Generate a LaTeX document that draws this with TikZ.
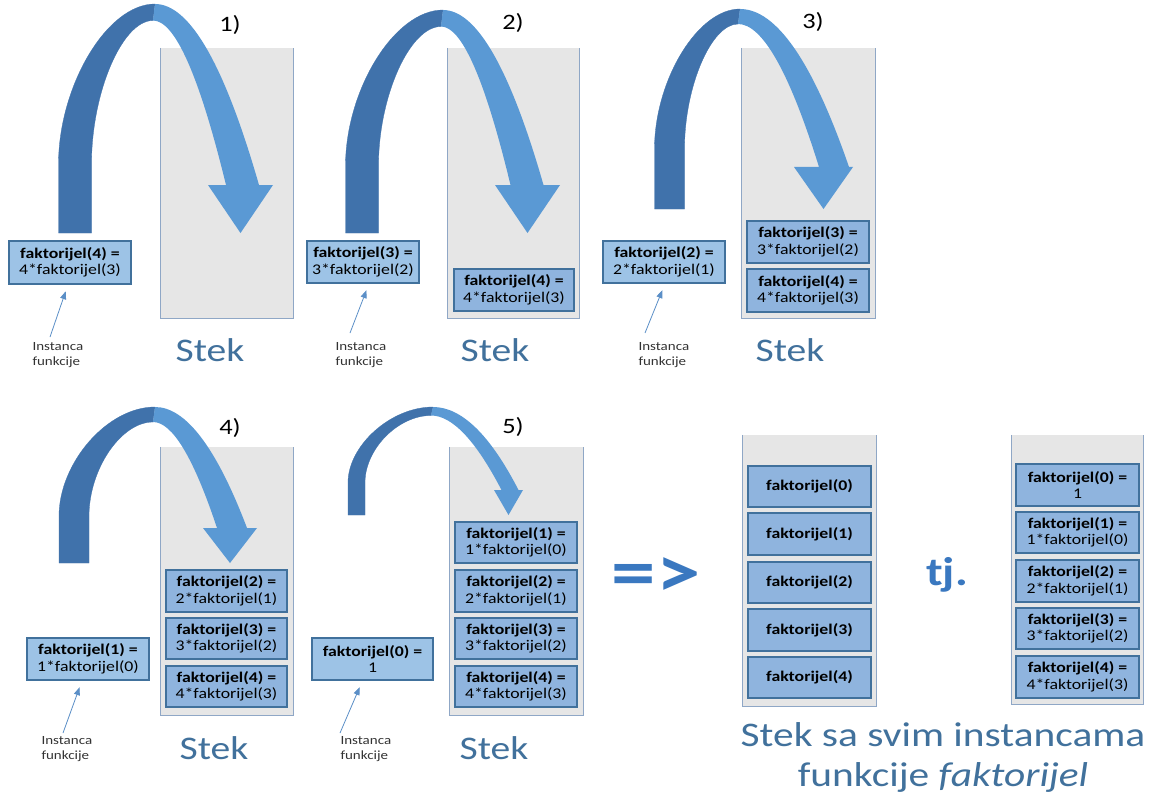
\documentclass[tikz,border=0pt]{standalone}
\usepackage{fontspec}
\setmainfont{Carlito}[FakeStretch=1.2]
\usetikzlibrary{arrows.meta}

\definecolor{stackfill}{HTML}{E6E6E6}
\definecolor{stackline}{HTML}{8FA7C6}
\definecolor{boxline}{HTML}{41719C}
\definecolor{freebox}{HTML}{9DC3E6}
\definecolor{stackbox}{HTML}{8FB4DE}
\definecolor{arcdark}{HTML}{4072AB}
\definecolor{arclight}{HTML}{5A99D4}
\definecolor{labelblue}{HTML}{41719C}
\definecolor{pointer}{HTML}{5B8FC7}
\definecolor{bigsign}{HTML}{3A78C0}

\tikzset{
  fb/.style={draw=boxline, line width=1.2pt, inner sep=0pt, align=center,
             font=\fontsize{14.8}{16.5}\selectfont},
  freeb/.style={fb, fill=freebox},
  stackb/.style={fb, fill=stackbox},
  stackarea/.style={fill=stackfill, inner sep=0pt},
  stackwall/.style={draw=stackline, line width=1.3pt},
  steklabel/.style={text=labelblue, font=\fontsize{33}{36}\selectfont, anchor=base},
  steplabel/.style={font=\fontsize{22}{24}\selectfont, anchor=base},
  note/.style={font=\fontsize{12.5}{15.5}\selectfont, align=left, anchor=west, text=black!80},
  pointerline/.style={draw=pointer, line width=0.8pt,
                      -{Triangle[length=8pt,width=6pt]}, shorten >=7pt},
  caption/.style={text=labelblue, font=\fontsize{34.5}{40}\selectfont, anchor=base},
  sign/.style={font=\bfseries\fontsize{#1}{#1}\selectfont, text=bigsign},
}

% rectangle node given by its corners: style, x1, y1, x2, y2, name, text
\newcommand{\fbx}[7]{%
  \node[#1, minimum width={(#4-#2)*1pt}, minimum height={(#5-#3)*1pt}]
    (#6) at ({(#2+#4)/2},{(#3+#5)/2}) {#7};}

% open-topped stack: name, x1, y1, x2, y2
\newcommand{\stackbin}[5]{%
  \node[stackarea, minimum width={(#4-#2)*1pt}, minimum height={(#5-#3)*1pt}]
    (#1) at ({(#2+#4)/2},{(#3+#5)/2}) {};
  \draw[stackwall] (#1.north west) -- (#1.south west) -- (#1.south east) -- (#1.north east);}

% arched block arrow
% #1 leg centre x, #2 leg foot y, #3 apex x, #4 apex y, #5 shaft centre x,
% #6 head base y, #7 band width, #8 head left x, #9 head right x
\newcommand{\turnarrow}[9]{%
  \pgfmathsetmacro\tLo{#1-#7/2}%
  \pgfmathsetmacro\tLi{#1+#7/2}%
  \pgfmathsetmacro\tRo{#5+#7/2}%
  \pgfmathsetmacro\tRi{#5-#7/2}%
  \pgfmathsetmacro\tH{#2-#4}%
  \pgfmathsetmacro\tYv{#2-0.3*\tH}%
  \pgfmathsetmacro\tYc{#4+0.36*\tH}%
  \pgfmathsetmacro\tIx{#3-2}%
  \pgfmathsetmacro\tIy{#4+0.5*#7}%
  \pgfmathsetmacro\tLoc{#3-0.5*(#3-\tLo)}%
  \pgfmathsetmacro\tLic{\tIx-0.5*(\tIx-\tLi)}%
  \pgfmathsetmacro\tYci{\tYv-0.5*(\tYv-\tIy)}%
  \pgfmathsetmacro\tOa{#3+(\tRo-#3)/3}%
  \pgfmathsetmacro\tOb{\tRo-(\tRo-#3)/3}%
  \pgfmathsetmacro\tOby{#6-2*(#6-#4)/3}%
  \pgfmathsetmacro\tCx{\tIx+0.45*(\tRi-\tIx)}%
  \pgfmathsetmacro\tCy{\tIy}%
  \pgfmathsetmacro\tIax{\tRi+2*(\tCx-\tRi)/3}%
  \pgfmathsetmacro\tIay{#6+2*(\tCy-#6)/3}%
  \pgfmathsetmacro\tIbx{\tIx+2*(\tCx-\tIx)/3}%
  \pgfmathsetmacro\tIby{\tIy+2*(\tCy-\tIy)/3}%
  \pgfmathsetmacro\tTip{(#8+#9)/2}%
  \filldraw[fill=arcdark, draw=arcdark, line width=0.3pt]
    (\tLo,#2) -- (\tLo,\tYv) .. controls (\tLo,\tYc) and (\tLoc,#4) .. (#3,#4)
    -- (\tIx,\tIy) .. controls (\tLic,\tIy) and (\tLi,\tYci) .. (\tLi,\tYv)
    -- (\tLi,#2) -- cycle;
  \fill[arclight]
    (#3,#4) .. controls (\tOa,#4) and (\tOb,\tOby) .. (\tRo,#6)
    -- (#9,#6) -- (\tTip,#2) -- (#8,#6) -- (\tRi,#6)
    .. controls (\tIax,\tIay) and (\tIbx,\tIby) .. (\tIx,\tIy) -- cycle;}

\begin{document}
\begin{tikzpicture}[x=1pt, y=-1pt]
\fill[white] (0,0) rectangle (1155,805);
\useasboundingbox (0,0) rectangle (1155,805);

% ---------- stacks ----------
\stackbin{s1}{161}{48}{293}{318}
\stackbin{s2}{448}{48}{579}{318}
\stackbin{s3}{742}{48}{875}{318}
\stackbin{s4}{161}{447}{293}{715}
\stackbin{s5}{450}{447}{583}{715}
\stackbin{sa}{743}{435}{876}{706}
\stackbin{sb}{1012}{435}{1143}{704}

% ---------- call arrows ----------
\turnarrow{75}{233}{155}{4}{242.5}{185}{33}{208}{273}
\turnarrow{362}{233}{443}{10}{527}{185}{33}{495}{560}
\turnarrow{669.5}{209}{740}{9}{834}{167}{30}{794}{853}
\turnarrow{74}{563}{155}{407}{232}{528}{30}{203}{257}
\turnarrow{356.5}{515}{433}{407}{510}{490}{17}{494}{523}

% ---------- step numbers ----------
\node[steplabel] (n1) at (230,32) {1)};
\node[steplabel] (n2) at (513,30) {2)};
\node[steplabel] (n3) at (813,29) {3)};
\node[steplabel] (n4) at (230,434) {4)};
\node[steplabel] (n5) at (513,433) {5)};

% ---------- current instances ----------
\fbx{freeb}{9}{241}{131}{284}{L1}{\textbf{faktorijel(4) =}\\4*faktorijel(3)}
\fbx{freeb}{307}{241}{419}{283}{L2}{\textbf{faktorijel(3) =}\\3*faktorijel(2)}
\fbx{freeb}{603}{241}{725}{283}{L3}{\textbf{faktorijel(2) =}\\2*faktorijel(1)}
\fbx{freeb}{27}{638}{149}{680}{L4}{\textbf{faktorijel(1) =}\\1*faktorijel(0)}
\fbx{freeb}{312}{638}{433}{680}{L5}{\textbf{faktorijel(0) =}\\1}

% ---------- stack contents ----------
\fbx{stackb}{454}{269}{574}{311}{b24}{\textbf{faktorijel(4) =}\\4*faktorijel(3)}

\fbx{stackb}{747}{221}{869}{263}{b33}{\textbf{faktorijel(3) =}\\3*faktorijel(2)}
\fbx{stackb}{747}{269}{869}{312}{b34}{\textbf{faktorijel(4) =}\\4*faktorijel(3)}

\fbx{stackb}{166}{570}{287}{612}{b42}{\textbf{faktorijel(2) =}\\2*faktorijel(1)}
\fbx{stackb}{166}{618}{287}{659}{b43}{\textbf{faktorijel(3) =}\\3*faktorijel(2)}
\fbx{stackb}{166}{666}{287}{707}{b44}{\textbf{faktorijel(4) =}\\4*faktorijel(3)}

\fbx{stackb}{455}{522}{577}{563}{b51}{\textbf{faktorijel(1) =}\\1*faktorijel(0)}
\fbx{stackb}{455}{570}{577}{612}{b52}{\textbf{faktorijel(2) =}\\2*faktorijel(1)}
\fbx{stackb}{455}{618}{577}{659}{b53}{\textbf{faktorijel(3) =}\\3*faktorijel(2)}
\fbx{stackb}{455}{666}{577}{707}{b54}{\textbf{faktorijel(4) =}\\4*faktorijel(3)}

\fbx{stackb}{748}{466}{871}{507}{ba0}{\textbf{faktorijel(0)}}
\fbx{stackb}{748}{513}{871}{555}{ba1}{\textbf{faktorijel(1)}}
\fbx{stackb}{748}{562}{871}{603}{ba2}{\textbf{faktorijel(2)}}
\fbx{stackb}{748}{609}{871}{651}{ba3}{\textbf{faktorijel(3)}}
\fbx{stackb}{748}{657}{871}{698}{ba4}{\textbf{faktorijel(4)}}

\fbx{stackb}{1016}{464}{1139}{506}{bb0}{\textbf{faktorijel(0) =}\\1}
\fbx{stackb}{1016}{512}{1139}{553}{bb1}{\textbf{faktorijel(1) =}\\1*faktorijel(0)}
\fbx{stackb}{1016}{560}{1139}{602}{bb2}{\textbf{faktorijel(2) =}\\2*faktorijel(1)}
\fbx{stackb}{1016}{608}{1139}{649}{bb3}{\textbf{faktorijel(3) =}\\3*faktorijel(2)}
\fbx{stackb}{1016}{656}{1139}{698}{bb4}{\textbf{faktorijel(4) =}\\4*faktorijel(3)}

% ---------- stack titles ----------
\node[steklabel] (t1) at (210,361) {Stek};
\node[steklabel] (t2) at (495,361) {Stek};
\node[steklabel] (t3) at (790,361) {Stek};
\node[steklabel] (t4) at (214,759) {Stek};
\node[steklabel] (t5) at (494,759) {Stek};

% ---------- instance notes and pointers ----------
\node[note] (i1) at (29,355) {Instanca\\funkcije};
\node[note] (i2) at (332,355) {Instanca\\funkcije};
\node[note] (i3) at (635,355) {Instanca\\funkcije};
\node[note] (i4) at (38,749) {Instanca\\funkcije};
\node[note] (i5) at (337,749) {Instanca\\funkcije};

\coordinate (p1) at (50,337);
\coordinate (p2) at (350,333);
\coordinate (p3) at (645,333);
\coordinate (p4) at (63,733);
\coordinate (p5) at (340,733);
\draw[pointerline] (p1) -- ([xshift=-2pt]L1.south);
\draw[pointerline] (p2) -- ([xshift=6pt]L2.south);
\draw[pointerline] (p3) -- ([xshift=1pt]L3.south);
\draw[pointerline] (p4) -- ([xshift=-6pt]L4.south);
\draw[pointerline] (p5) -- ([xshift=-10pt]L5.south);

% ---------- summary ----------
\node[sign=74] (impl) at (656,578) {=>};
\node[sign=40] (ie) at (947,575) {tj.};

\node[caption] (c1) at (943,746) {Stek sa svim instancama};
\node[caption] (c2) at (943,786) {funkcije \textit{faktorijel}};
\end{tikzpicture}
\end{document}
